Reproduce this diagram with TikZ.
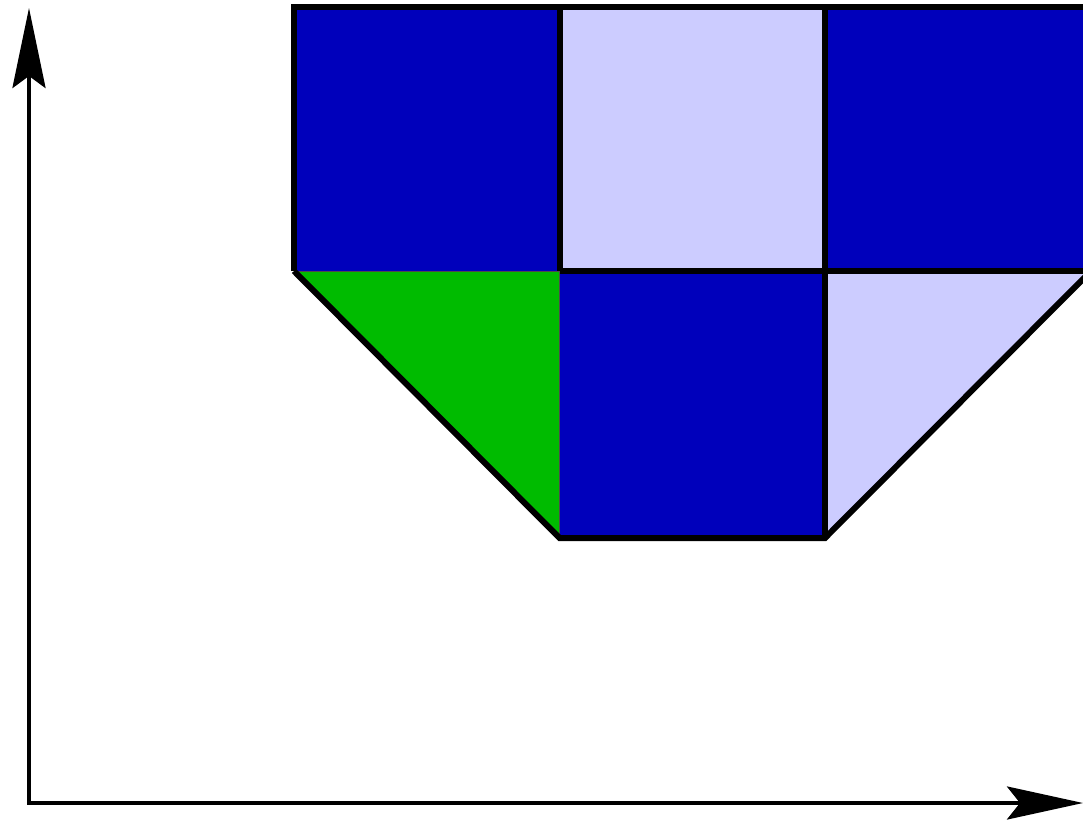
\documentclass[tikz,border=0pt]{standalone}
\usetikzlibrary{arrows.meta}
\definecolor{dblue}{HTML}{0000BB}
\definecolor{lblue}{HTML}{CCCCFF}
\definecolor{dgreen}{HTML}{00BB00}
\begin{document}
\begin{tikzpicture}[x=1pt,y=-1pt,
  thick edge/.style={line width=6pt,black,line join=miter},
  thin edge/.style={line width=0.8pt,black!70},
  axis/.style={line width=4pt,black,line join=miter}]
\useasboundingbox (0,0) rectangle (1083,821);
\fill[white] (0,0) rectangle (1083,821);
% fills
\fill[dblue] (294,7) rectangle (559.5,271);
\fill[lblue] (559.5,7) rectangle (825,271);
\fill[dblue] (825,7) rectangle (1091,271);
\fill[dgreen] (294,271) -- (559.5,271) -- (559.5,538) -- cycle;
\fill[dblue] (559.5,271) rectangle (825,538);
\fill[lblue] (825,271) -- (1091,271) -- (825,538) -- cycle;
% thin edges
\draw[thin edge] (294,271) -- (559.5,271) -- (559.5,538);
% thick edges
\draw[thick edge] (294,271) -- (294,7) -- (1091,7);
\draw[thick edge] (559.5,7) -- (559.5,271);
\draw[thick edge] (825,7) -- (825,538);
\draw[thick edge] (559.5,271) -- (1091,271);
\draw[thick edge] (294,271) -- (559.5,538) -- (825,538) -- (1091,271);
% axes
\coordinate (o) at (29,803);
\coordinate (ytip) at (29,8);
\coordinate (xtip) at (1083,803);
\draw[axis,{Stealth[length=80pt,width=33pt,inset=12pt]}-{Stealth[length=76pt,width=33pt,inset=13pt]}] (ytip) -- (o) -- (xtip);
\end{tikzpicture}
\end{document}
